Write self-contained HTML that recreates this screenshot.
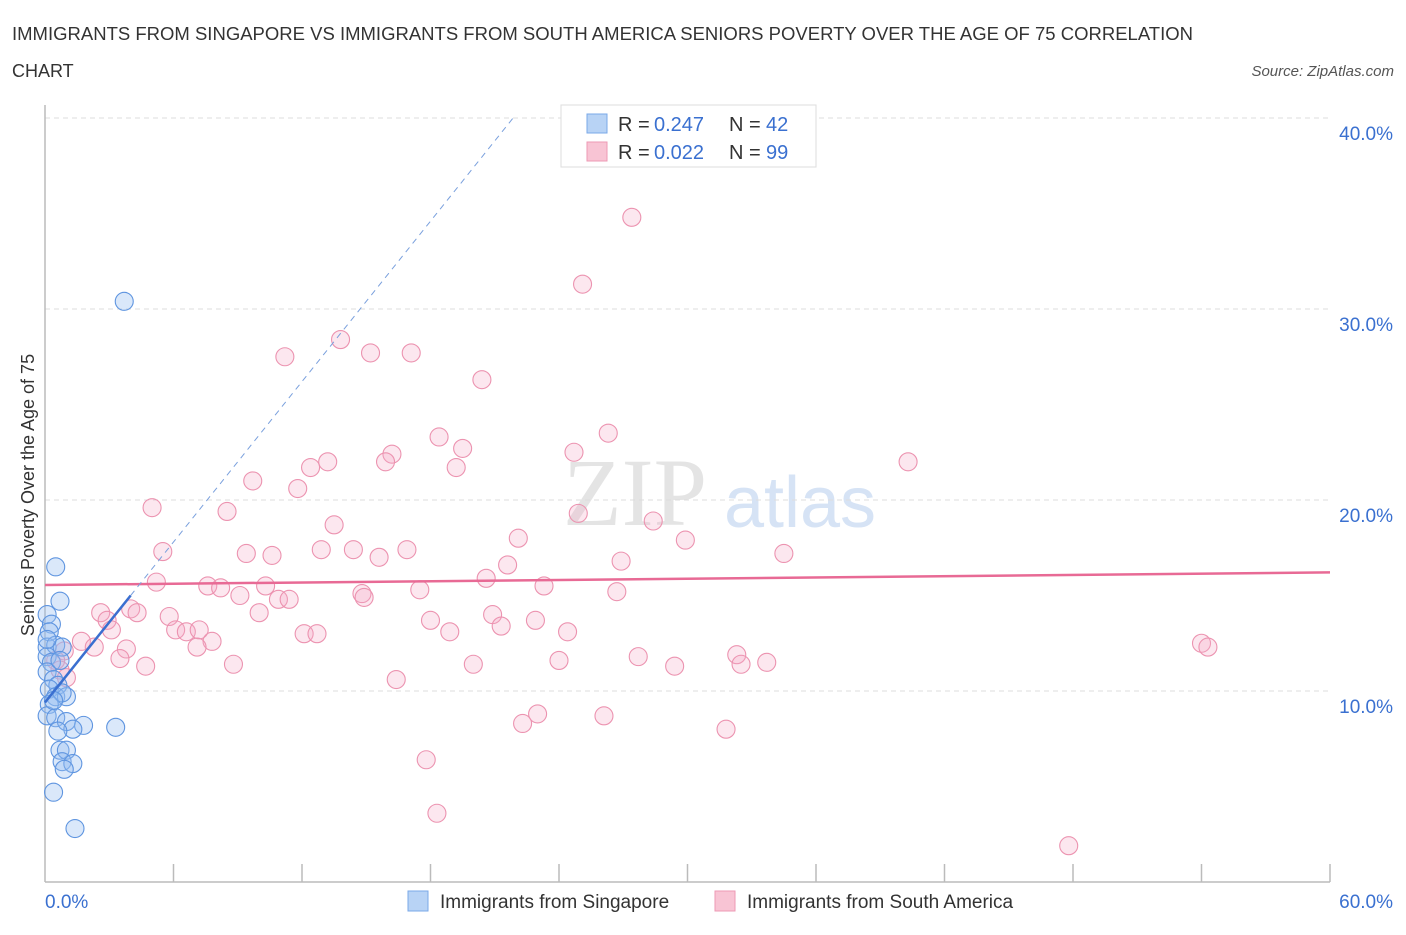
<!DOCTYPE html>
<html><head><meta charset="utf-8"><style>
body{margin:0;background:#fff;font-family:"Liberation Sans",sans-serif;}
</style></head><body>
<svg id="chart" width="1406" height="930" xmlns="http://www.w3.org/2000/svg">
<text x="12" y="40" font-size="18" fill="#333" textLength="1181" lengthAdjust="spacingAndGlyphs">IMMIGRANTS FROM SINGAPORE VS IMMIGRANTS FROM SOUTH AMERICA SENIORS POVERTY OVER THE AGE OF 75 CORRELATION</text>
<text x="12" y="77" font-size="18" fill="#333">CHART</text>
<text x="1394" y="76" font-size="15" fill="#555" font-style="italic" text-anchor="end">Source: ZipAtlas.com</text>
<text x="635" y="525" font-size="96" fill="#e4e4e4" font-family="Liberation Serif,serif" text-anchor="middle">ZIP</text>
<text x="800" y="527" font-size="72" fill="#d6e3f5" text-anchor="middle">atlas</text>
<text transform="translate(34,495) rotate(-90)" font-size="18" fill="#333" text-anchor="middle">Seniors Poverty Over the Age of 75</text>
<g id="grid"></g><g id="axes"></g><g id="pts"></g><g id="trend"></g>
<g>
<rect x="561" y="105" width="255" height="62" fill="#fff" stroke="#ddd"/>
<rect x="587" y="114" width="20" height="19" fill="#b8d3f5" stroke="#7aa8e8"/>
<rect x="587" y="142" width="20" height="19" fill="#f8c4d4" stroke="#ee9ab4"/>
<text x="618" y="131" font-size="20" fill="#333">R =</text><text x="654" y="131" font-size="20" fill="#3a70d0">0.247</text>
<text x="729" y="131" font-size="20" fill="#333">N =</text><text x="766" y="131" font-size="20" fill="#3a70d0">42</text>
<text x="618" y="159" font-size="20" fill="#333">R =</text><text x="654" y="159" font-size="20" fill="#3a70d0">0.022</text>
<text x="729" y="159" font-size="20" fill="#333">N =</text><text x="766" y="159" font-size="20" fill="#3a70d0">99</text>
</g>
<g>
<rect x="408" y="891" width="20" height="20" fill="#b8d3f5" stroke="#7aa8e8"/>
<text x="440" y="908" font-size="19" fill="#333">Immigrants from Singapore</text>
<rect x="715" y="891" width="20" height="20" fill="#f8c4d4" stroke="#ee9ab4"/>
<text x="747" y="908" font-size="19" fill="#333">Immigrants from South America</text>
</g>
</svg>
<script>
const yTicks=[10,20,30,40];
const yTickLabels=["10.0%","20.0%","30.0%","40.0%"];
const xTickLabels=["0.0%","60.0%"];
const blueX=[3.7,0.5,0.7,0.1,0.3,0.2,0.1,0.5,0.8,0.1,0.3,0.1,0.4,0.6,0.2,0.5,1.0,0.8,0.2,0.1,0.5,1.0,1.8,3.3,1.3,0.6,0.7,1.0,0.8,1.3,0.9,0.4,1.4,0.4,0.7,0.1];
const blueY=[30.4,16.5,14.7,14.0,13.5,13.1,12.3,12.4,12.3,11.8,11.5,11.0,10.6,10.3,10.1,9.7,9.7,9.9,9.3,8.7,8.6,8.4,8.2,8.1,8.0,7.9,6.9,6.9,6.3,6.2,5.9,4.7,2.8,9.5,11.6,12.7];
const pinkX=[27.4,25.1,13.8,11.2,15.2,17.1,20.4,18.4,19.5,26.3,24.7,16.2,15.9,19.2,13.2,12.4,40.3,9.7,11.8,5.0,8.5,24.9,13.5,28.4,22.1,29.9,5.5,9.4,10.6,12.9,14.4,15.6,16.9,21.6,26.9,34.5,20.6,5.2,7.6,8.2,10.3,9.1,14.8,14.9,17.5,23.3,26.7,10.9,11.4,2.6,4.0,4.3,10.0,5.8,20.9,22.9,18.0,2.9,21.3,18.9,24.4,12.1,12.7,6.1,6.6,7.2,3.1,1.7,7.8,7.1,3.8,2.3,54.0,54.3,0.9,27.7,32.3,33.7,32.5,24.0,29.4,20.0,8.8,4.7,3.5,0.5,0.7,1.0,16.4,23.0,22.3,26.1,31.8,17.8,18.3,47.8];
const pinkY=[34.8,31.3,28.4,27.5,27.7,27.7,26.3,23.3,22.7,23.5,22.5,22.4,22.0,21.7,22.0,21.7,22.0,21.0,20.6,19.6,19.4,19.3,18.7,18.9,18.0,17.9,17.3,17.2,17.1,17.4,17.4,17.0,17.4,16.6,16.8,17.2,15.9,15.7,15.5,15.4,15.5,15.0,15.1,14.9,15.3,15.5,15.2,14.8,14.8,14.1,14.3,14.1,14.1,13.9,14.0,13.7,13.7,13.7,13.4,13.1,13.1,13.0,13.0,13.2,13.1,13.2,13.2,12.6,12.6,12.3,12.2,12.3,12.5,12.3,12.1,11.8,11.9,11.5,11.4,11.6,11.3,11.4,11.4,11.3,11.7,11.6,11.1,10.7,10.6,8.8,8.3,8.7,8.0,6.4,3.6,1.9];
const blueTrend=[9.4,1.4]; // intercept, slope
const pinkTrend=[15.55,0.011];
const NS="http://www.w3.org/2000/svg";
const X0=45,X1=1330,Y0=882,YPER=19.1;
function sx(v){return X0+(v/60)*(X1-X0);}
function sy(v){return Y0-v*YPER;}
function mk(tag,attrs,parent){const e=document.createElementNS(NS,tag);for(const k in attrs)e.setAttribute(k,attrs[k]);document.getElementById(parent).appendChild(e);return e;}
yTicks.forEach((t,i)=>{
 const g=mk('line',{x1:X0,x2:X1,y1:sy(t),y2:sy(t),stroke:'#ddd','stroke-dasharray':'5,4'},'grid');
 
 
 const l=mk('text',{x:1393,y:sy(t)+22,'font-size':19,fill:'#3a70d0','text-anchor':'end'},'grid');
 l.textContent=yTickLabels[i];
 
 
});
let a=mk('line',{x1:X0,x2:X0,y1:105,y2:Y0,stroke:'#bbb','stroke-width':1.5},'axes');


a=mk('line',{x1:X0,x2:X1,y1:Y0,y2:Y0,stroke:'#bbb','stroke-width':1.5},'axes');


for(let i=1;i<=10;i++){const t=mk('line',{x1:sx(i*6),x2:sx(i*6),y1:864,y2:Y0,stroke:'#bbb','stroke-width':1.5},'axes');
 
 }
let xl=mk('text',{x:45,y:908,'font-size':19,fill:'#3a70d0'},'axes');xl.textContent=xTickLabels[0];


xl=mk('text',{x:1393,y:908,'font-size':19,fill:'#3a70d0','text-anchor':'end'},'axes');xl.textContent=xTickLabels[1];


pinkX.forEach((v,i)=>{const c=mk('circle',{cx:sx(v),cy:sy(pinkY[i]),r:9,fill:'rgba(246,170,196,0.28)',stroke:'#ec93b0','stroke-width':1.1},'pts');
 
 });
blueX.forEach((v,i)=>{const c=mk('circle',{cx:sx(v),cy:sy(blueY[i]),r:9,fill:'rgba(150,190,240,0.35)',stroke:'#5f95e0','stroke-width':1.1},'pts');
 
 });
let tl=mk('line',{x1:sx(0),y1:sy(pinkTrend[0]),x2:sx(60),y2:sy(pinkTrend[0]+pinkTrend[1]*60),stroke:'#e86a95','stroke-width':2.5},'trend');


const xe=(40-blueTrend[0])/blueTrend[1];
tl=mk('line',{x1:sx(4),y1:sy(blueTrend[0]+blueTrend[1]*4),x2:sx(xe),y2:sy(40),stroke:'#7aa0dd','stroke-width':1,'stroke-dasharray':'6,5'},'trend');


tl=mk('line',{x1:sx(0),y1:sy(blueTrend[0]),x2:sx(4),y2:sy(blueTrend[0]+blueTrend[1]*4),stroke:'#3a6fd0','stroke-width':2.5},'trend');


</script>
</body></html>
